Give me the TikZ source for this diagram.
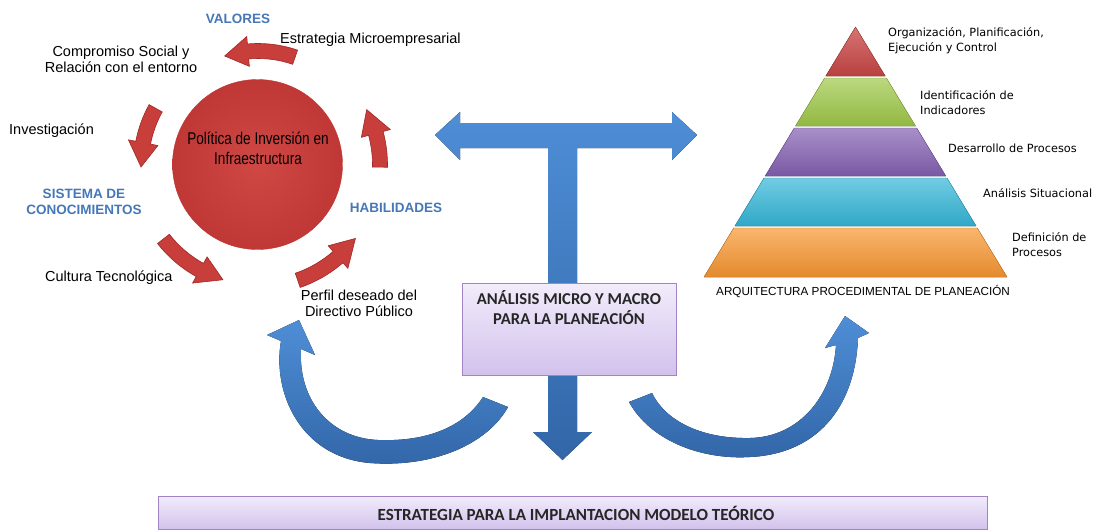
\documentclass[tikz,border=0pt]{standalone}
\usepackage{fontspec}
\setmainfont{Liberation Sans}
\newfontfamily\calfont{Carlito}
\newfontfamily\dvfont{DejaVu Sans}
\usetikzlibrary{calc}
\definecolor{headblue}{RGB}{70,120,185}
\definecolor{arrred}{RGB}{200,62,58}
\definecolor{arrredd}{RGB}{160,40,40}
\definecolor{circin}{RGB}{208,72,68}
\definecolor{circout}{RGB}{192,56,54}
\definecolor{boxtop}{RGB}{242,236,251}
\definecolor{boxbot}{RGB}{210,194,236}
\definecolor{boxline}{RGB}{160,132,198}
\definecolor{bluelt}{RGB}{78,142,214}
\definecolor{bluedk}{RGB}{50,102,168}
\definecolor{pyrred}{RGB}{200,70,68}
\definecolor{pyrgreen}{RGB}{158,200,72}
\definecolor{pyrpurple}{RGB}{132,96,178}
\definecolor{pyrcyan}{RGB}{52,182,216}
\definecolor{pyrorange}{RGB}{248,150,48}
\newcommand\redarc[4]{%
  \pgfmathsetmacro\rOa{#1+7.5}\pgfmathsetmacro\rIa{#1-7.5}%
  \pgfmathsetmacro\rOb{#1+15}\pgfmathsetmacro\rIb{#1-15}%
  \fill[redarrow] ($(C)+(#2:\rOa)$) arc[start angle=#2,end angle=#3,radius=\rOa]
   -- ($(C)+(#3:\rOb)$) -- ($(C)+(#4:#1)$) -- ($(C)+(#3:\rIb)$)
   -- ($(C)+(#3:\rIa)$) arc[start angle=#3,end angle=#2,radius=\rIa] -- cycle;}
\newcommand\pyrband[7]{%
  \fill[top color=#7!70!white, middle color=#7, bottom color=#7!92!black, draw=#7!80!black, line width=0.4pt]
    (#1,#3) -- (#2,#3) -- (#6,#4) -- (#5,#4) -- cycle;}
\begin{document}
\begin{tikzpicture}[x=1pt,y=-1pt,
  redarrow/.style={fill=arrred, draw=arrredd, line width=0.6pt},
  bluearrow/.style={top color=bluelt, bottom color=bluedk, draw=none},
  lbl/.style={font=\fontsize{14.5}{16}\selectfont, align=center, inner sep=0pt},
  plbl/.style={font=\dvfont\fontsize{11.3}{15}\selectfont, align=left, anchor=west, inner sep=0pt},
  head/.style={font=\bfseries\fontsize{13.5}{16}\selectfont, text=headblue, align=center, inner sep=0pt},
  pbox/.style={draw=boxline, line width=0.9pt, top color=boxtop, bottom color=boxbot, inner sep=0pt}
]
\useasboundingbox (0,0) rectangle (1097,531);
\fill[white] (0,0) rectangle (1097,531);

% ---- centre circle and red cycle arrows
\coordinate (C) at (258,165);
\node[circle, minimum size=170pt, inner color=circin, outer color=circout, draw=circout, inner sep=0pt] (pol) at (257.5,164.5) {};
\node[font=\fontsize{17}{20}\selectfont, align=center, inner sep=0pt] (poltxt) at (258,148)
  {\scalebox{0.8}[1]{Política de Inversión en}\\\scalebox{0.8}[1]{Infraestructura}};
\redarc{114}{-71}{-95}{-107}
\redarc{117}{-151}{-169}{-181}
\redarc{120}{-218}{-241}{-253}
\redarc{122}{-289}{-311}{-323}
\redarc{122}{-359}{-375}{-387}

% ---- labels around the circle
\node[head] (val) at (238,19) {VALORES};
\node[lbl, anchor=west] (estm) at (280,40) {Estrategia Microempresarial};
\node[lbl] (comp) at (121,59) {Compromiso Social y\\Relación con el entorno};
\node[lbl, anchor=west] (inv) at (9,131) {Investigación};
\node[head] (sis) at (84,202) {SISTEMA DE\\CONOCIMIENTOS};
\node[head] (hab) at (396,208) {HABILIDADES};
\node[lbl, anchor=west] (cult) at (45,278) {Cultura Tecnológica};
\node[lbl] (perf) at (359,303) {Perfil deseado del\\Directivo Público};

% ---- blue T arrow with downward arrow
\fill[bluearrow] (435,135) -- (460,112) -- (460,123) -- (672,123) -- (672,112) -- (697,135)
  -- (672,160) -- (672,148) -- (577,148) -- (577,432) -- (592,432) -- (562.5,460)
  -- (533,432) -- (548,432) -- (548,148) -- (460,148) -- (460,160) -- cycle;

% ---- curved blue arrows
\fill[bluearrow] (301,349) -- (315,355) -- (299,320) -- (267,335) -- (281,341)
  .. controls (272,392) and (300,457) .. (370,463)
  .. controls (440,468) and (490,440) .. (508,407) -- (483,397)
  .. controls (465,425) and (430,442) .. (378,440)
  .. controls (330,438) and (298,400) .. (301,349) -- cycle;
\fill[bluearrow] (629,402) .. controls (650,440) and (700,460) .. (750,457)
  .. controls (815,454) and (855,410) .. (858,338) -- (869,333) -- (845,316) -- (825,348) -- (836,345)
  .. controls (833,395) and (800,437) .. (750,438)
  .. controls (700,439) and (665,420) .. (652,393) -- cycle;

% ---- boxes
\node[pbox, minimum width=214pt, minimum height=92pt] (ana) at (569,329) {};
\node[font=\calfont\bfseries\fontsize{16.6}{20}\selectfont, text=black!85, align=center, inner sep=0pt] (anatxt) at (569,308)
  {ANÁLISIS MICRO Y MACRO\\PARA LA PLANEACIÓN};
\node[pbox, minimum width=829pt, minimum height=33pt] (est) at (572.5,512.5) {};
\node[font=\calfont\bfseries\fontsize{17}{20}\selectfont, text=black!85, inner sep=0pt] (esttxt) at (576,513)
  {ESTRATEGIA PARA LA IMPLANTACION MODELO TEÓRICO};

% ---- pyramid
\fill[top color=pyrred!75!white, middle color=pyrred, bottom color=pyrred!92!black, draw=pyrred!80!black, line width=0.4pt]
  (855.5,27) -- (885.2,76) -- (825.8,76) -- cycle;
\pyrband{824.6}{886.4}{78}{126}{795.5}{915.5}{pyrgreen}
\pyrband{794.3}{916.7}{128}{176}{765.2}{945.8}{pyrpurple}
\pyrband{764.0}{947.0}{178}{226}{734.9}{976.1}{pyrcyan}
\pyrband{733.7}{977.3}{228}{277}{704.0}{1007.0}{pyrorange}

\node[plbl] (org) at (888,41) {Organización, Planificación,\\Ejecución y Control};
\node[plbl] (ide) at (920,103) {Identificación de\\Indicadores};
\node[plbl] (des) at (948,148) {Desarrollo de Procesos};
\node[plbl] (ans) at (983,193) {Análisis Situacional};
\node[plbl] (def) at (1012,245) {Definición de\\Procesos};
\node[font=\fontsize{11.7}{14}\selectfont, inner sep=0pt] (arq) at (863,292) {ARQUITECTURA PROCEDIMENTAL DE PLANEACIÓN};
\end{tikzpicture}
\end{document}
